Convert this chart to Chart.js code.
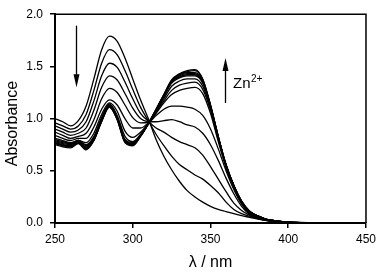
<!DOCTYPE html>
<html>
<head>
<meta charset="utf-8">
<script src="https://cdn.jsdelivr.net/npm/chart.js@4.4.0/dist/chart.umd.min.js"></script>
<style>
  html, body { margin: 0; padding: 0; background: #fff; }
</style>
</head>
<body>
<canvas id="myChart" width="380" height="272"></canvas>
<script>
// wavelength grid (nm)
var wavelengths = [250,255,260,265,270,275,280,285,290,295,300,305,310,315,320,325,330,335,340,345,350,355,360,365,370,375,380,385,390,395,400,425,450];

// absorbance spectra during the Zn2+ titration (first = no Zn2+)
var spec0 = [1.00,0.97,0.93,0.98,1.12,1.38,1.66,1.79,1.74,1.58,1.38,1.18,1.00,0.80,0.64,0.51,0.40,0.31,0.25,0.20,0.16,0.13,0.11,0.09,0.07,0.055,0.04,0.025,0.015,0.008,0.004,0.001,0];
var spec1 = [0.96,0.93,0.90,0.93,1.04,1.27,1.53,1.66,1.61,1.46,1.28,1.11,0.98,0.85,0.74,0.64,0.56,0.51,0.46,0.42,0.36,0.29,0.20,0.13,0.09,0.065,0.045,0.028,0.016,0.009,0.005,0.001,0];
var spec2 = [0.93,0.90,0.87,0.89,0.97,1.17,1.41,1.53,1.49,1.35,1.19,1.05,0.975,0.91,0.87,0.82,0.78,0.75,0.72,0.65,0.54,0.42,0.30,0.19,0.12,0.075,0.045,0.028,0.016,0.009,0.005,0.001,0];
var spec3 = [0.90,0.87,0.84,0.86,0.91,1.08,1.30,1.41,1.37,1.24,1.10,1.00,0.97,0.97,0.98,0.99,0.97,0.94,0.92,0.86,0.75,0.60,0.43,0.28,0.16,0.085,0.05,0.03,0.017,0.01,0.005,0.001,0];
var spec4 = [0.87,0.84,0.81,0.83,0.86,0.99,1.19,1.29,1.25,1.13,1.01,0.96,0.965,1.03,1.09,1.12,1.12,1.11,1.09,1.03,0.90,0.71,0.50,0.32,0.18,0.09,0.055,0.032,0.018,0.01,0.006,0.001,0];
var spec5 = [0.84,0.81,0.79,0.81,0.81,0.92,1.09,1.18,1.13,1.00,0.91,0.91,0.96,1.05,1.15,1.23,1.27,1.29,1.30,1.24,1.05,0.78,0.53,0.34,0.19,0.10,0.06,0.035,0.02,0.011,0.006,0.002,0];
var spec6 = [0.81,0.79,0.77,0.79,0.77,0.86,1.04,1.15,1.07,0.88,0.82,0.87,0.955,1.06,1.17,1.27,1.32,1.34,1.35,1.28,1.08,0.80,0.54,0.35,0.20,0.105,0.065,0.038,0.021,0.012,0.007,0.002,0];
var spec7 = [0.80,0.78,0.76,0.79,0.75,0.83,1.01,1.14,1.03,0.83,0.78,0.85,0.955,1.07,1.19,1.31,1.36,1.38,1.38,1.31,1.10,0.81,0.55,0.35,0.20,0.11,0.067,0.039,0.022,0.013,0.008,0.002,0];
var spec8 = [0.79,0.77,0.76,0.79,0.74,0.82,1.00,1.13,1.01,0.80,0.77,0.84,0.95,1.08,1.21,1.34,1.39,1.41,1.41,1.34,1.11,0.82,0.55,0.36,0.20,0.11,0.07,0.04,0.025,0.015,0.009,0.002,0];
var spec9 = [0.78,0.76,0.75,0.78,0.73,0.81,0.99,1.125,1.005,0.79,0.76,0.84,0.95,1.08,1.215,1.35,1.40,1.42,1.42,1.35,1.115,0.82,0.55,0.36,0.205,0.11,0.07,0.04,0.025,0.015,0.009,0.002,0];
var spec10 = [0.77,0.75,0.74,0.775,0.72,0.80,0.985,1.12,1.00,0.785,0.755,0.835,0.95,1.085,1.22,1.355,1.41,1.43,1.43,1.36,1.12,0.825,0.555,0.36,0.205,0.112,0.07,0.04,0.025,0.015,0.009,0.002,0];
var spec11 = [0.765,0.745,0.735,0.77,0.715,0.795,0.98,1.115,0.995,0.78,0.75,0.835,0.95,1.085,1.225,1.36,1.42,1.44,1.44,1.37,1.125,0.826,0.555,0.36,0.21,0.113,0.07,0.04,0.025,0.015,0.009,0.002,0];
var spec12 = [0.76,0.74,0.73,0.765,0.71,0.79,0.975,1.11,0.99,0.775,0.745,0.83,0.95,1.09,1.23,1.365,1.425,1.45,1.46,1.375,1.13,0.83,0.56,0.36,0.21,0.114,0.07,0.04,0.025,0.015,0.009,0.002,0];
var spec13 = [0.75,0.73,0.72,0.76,0.70,0.79,0.97,1.11,0.99,0.77,0.74,0.83,0.95,1.09,1.23,1.37,1.43,1.46,1.47,1.38,1.13,0.83,0.56,0.36,0.21,0.115,0.07,0.04,0.025,0.015,0.009,0.002,0];

var allSpectra = [spec0,spec1,spec2,spec3,spec4,spec5,spec6,spec7,spec8,spec9,spec10,spec11,spec12,spec13];

var xTicks = [250, 300, 350, 400, 450];
var yTicks = [0.0, 0.5, 1.0, 1.5, 2.0];

var fontFam = "'Liberation Sans', Arial, sans-serif";

var datasets = allSpectra.map(function (s) {
    return {
        data: s.map(function (v, i) { return {x: wavelengths[i], y: v}; }),
        borderColor: "#000",
        borderWidth: 1.3,
        backgroundColor: "transparent",
        pointRadius: 0,
        cubicInterpolationMode: "monotone",
        fill: false
    };
});

// frame on top/right, y title, arrows and the Zn2+ label
var extras = {
    id: "extras",
    afterDatasetsDraw: function (chart) {
        var ctx = chart.ctx, a = chart.chartArea;
        var xs = chart.scales.x, ys = chart.scales.y;
        ctx.save();
        ctx.strokeStyle = "#000";
        ctx.lineWidth = 1.5;
        ctx.beginPath();
        ctx.moveTo(a.left, a.top);
        ctx.lineTo(a.right, a.top);
        ctx.lineTo(a.right, a.bottom);
        ctx.stroke();

        function arrow(xv, yFrom, yTo) {
            var px = Math.round(xs.getPixelForValue(xv)) + 0.5;
            var p0 = ys.getPixelForValue(yFrom), p1 = ys.getPixelForValue(yTo);
            var dir = p1 > p0 ? 1 : -1;
            ctx.lineWidth = 1.3;
            ctx.beginPath();
            ctx.moveTo(px, p0);
            ctx.lineTo(px, p1 - dir * 8);
            ctx.stroke();
            ctx.beginPath();
            ctx.moveTo(px, p1);
            ctx.lineTo(px - 3, p1 - dir * 13);
            ctx.lineTo(px + 3, p1 - dir * 13);
            ctx.closePath();
            ctx.fillStyle = "#000";
            ctx.fill();
        }
        arrow(263.5, 1.89, 1.30);
        arrow(359.5, 1.15, 1.58);

        var tx = xs.getPixelForValue(364.5), ty = ys.getPixelForValue(1.29);
        ctx.fillStyle = "#000";
        ctx.textBaseline = "alphabetic";
        ctx.font = "15px " + fontFam;
        ctx.fillText("Zn", tx, ty);
        var w = ctx.measureText("Zn").width;
        ctx.font = "10px " + fontFam;
        ctx.fillText("2+", tx + w + 0.5, ty - 6);

        // y axis title, a little below the axis centre as in the original
        ctx.translate(13, (a.top + a.bottom) / 2 + 5);
        ctx.rotate(-Math.PI / 2);
        ctx.textAlign = "center";
        ctx.textBaseline = "middle";
        ctx.font = "16px " + fontFam;
        ctx.fillText("Absorbance", 0, 0);
        ctx.restore();
    }
};

var ctx = document.getElementById("myChart").getContext("2d");
var chart = new Chart(ctx, {
    type: "line",
    data: { datasets: datasets },
    options: {
        responsive: false,
        animation: false,
        events: [],
        layout: { padding: { top: 6, right: 12, left: 0, bottom: 0 } },
        plugins: { legend: { display: false }, tooltip: { enabled: false } },
        scales: {
            x: {
                type: "linear",
                min: 250,
                max: 450,
                afterFit: function (s) { s.height = 49; },
                afterBuildTicks: function (s) { s.ticks = xTicks.map(function (v) { return {value: v}; }); },
                ticks: { color: "#000", font: { family: fontFam, size: 12 }, padding: 4, maxRotation: 0 },
                grid: { drawOnChartArea: false, color: "#000", tickLength: 5, lineWidth: 1.5 },
                border: { color: "#000", width: 2 },
                title: { display: true, text: "λ / nm", color: "#000", font: { family: fontFam, size: 16 }, padding: { top: 0, bottom: 0 } }
            },
            y: {
                type: "linear",
                min: 0,
                max: 2,
                afterFit: function (s) { s.width = 55; },
                afterBuildTicks: function (s) { s.ticks = yTicks.map(function (v) { return {value: v}; }); },
                ticks: { color: "#000", font: { family: fontFam, size: 12 }, padding: 7,
                    callback: function (v) { return v.toFixed(1); } },
                grid: { drawOnChartArea: false, color: "#000", tickLength: 5, lineWidth: 1.5 },
                border: { color: "#000", width: 2 }
            }
        }
    },
    plugins: [extras]
});
</script>
</body>
</html>
